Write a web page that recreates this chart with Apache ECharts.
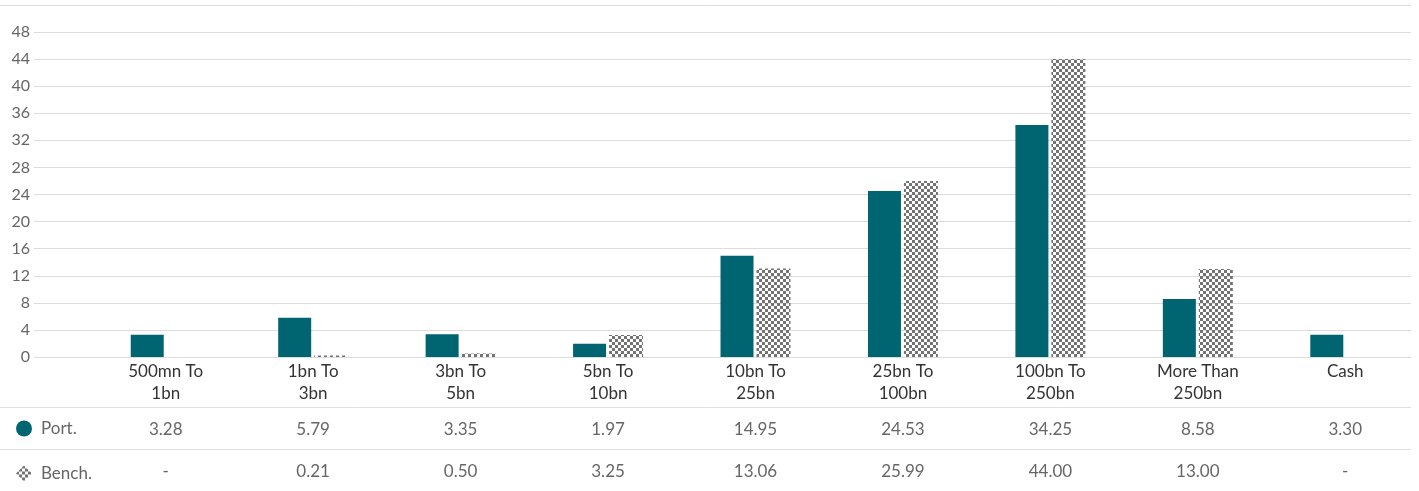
<!DOCTYPE html>
<html>
<head>
<meta charset="utf-8">
<script src="https://cdn.jsdelivr.net/npm/echarts@6/dist/echarts.min.js"></script>
<style>
html,body{margin:0;padding:0;background:#fff;}
#chart{width:1419px;height:491px;}
</style>
</head>
<body>
<div id="chart"></div>
<script>
const categories = ['500mn To\n1bn','1bn To\n3bn','3bn To\n5bn','5bn To\n10bn','10bn To\n25bn','25bn To\n100bn','100bn To\n250bn','More Than\n250bn','Cash'];
const portValues = [3.28, 5.79, 3.35, 1.97, 14.95, 24.53, 34.25, 8.58, 3.30];
const benchValues = [null, 0.21, 0.50, 3.25, 13.06, 25.99, 44.00, 13.00, null];
const yTicks = [0, 48, 4];

function makePattern() {
  const c = document.createElement('canvas');
  c.width = 6; c.height = 6;
  const ctx = c.getContext('2d');
  ctx.fillStyle = '#737373';
  ctx.fillRect(0, 0, 3, 3);
  ctx.fillRect(3, 3, 3, 3);
  return c;
}
const pattern = { image: makePattern(), repeat: 'repeat' };
const fmt = v => (v === null || v === undefined) ? '-' : v.toFixed(2);
const FONT = 'Lato, "Source Sans Pro", sans-serif';

const chart = echarts.init(document.getElementById('chart'));
chart.setOption({
  animation: false,
  textStyle: { fontFamily: FONT },
  grid: [
    { left: 34, right: 8, top: 32, height: 325, containLabel: false },
    { left: 92, width: 1327, top: 32, height: 325, containLabel: false }
  ],
  legend: {
    orient: 'vertical',
    left: 11,
    top: 415,
    itemWidth: 16,
    itemHeight: 16,
    itemGap: 28,
    textStyle: { color: '#666', fontSize: 17, fontFamily: FONT, padding: [0, 0, 0, 4] },
    data: [
      { name: 'Port.', icon: 'circle' },
      { name: 'Bench.', icon: 'diamond', itemStyle: { color: pattern } }
    ]
  },
  xAxis: [
    { type: 'value', gridIndex: 0, min: 0, max: 1, show: false },
    {
      type: 'category', gridIndex: 1, data: categories,
      axisLine: { show: false }, axisTick: { show: false },
      axisLabel: { color: '#333', fontSize: 17, lineHeight: 22, margin: 4, interval: 0, fontFamily: FONT }
    },
    {
      type: 'category', gridIndex: 1, data: categories, position: 'bottom', offset: 60,
      axisLine: { show: false }, axisTick: { show: false },
      axisLabel: { color: '#666', fontSize: 17, lineHeight: 22, margin: 2, interval: 0, fontFamily: FONT,
        formatter: (v, i) => fmt(portValues[i]) }
    },
    {
      type: 'category', gridIndex: 1, data: categories, position: 'bottom', offset: 102,
      axisLine: { show: false }, axisTick: { show: false },
      axisLabel: { color: '#666', fontSize: 17, lineHeight: 22, margin: 2, interval: 0, fontFamily: FONT,
        formatter: (v, i) => fmt(benchValues[i]) }
    }
  ],
  yAxis: [
    {
      type: 'value', gridIndex: 0, min: yTicks[0], max: yTicks[1], interval: yTicks[2],
      axisLine: { show: false }, axisTick: { show: false },
      axisLabel: { color: '#666', fontSize: 16, margin: 4, fontFamily: FONT },
      splitLine: { lineStyle: { color: '#dcdcdc', width: 1 } }
    },
    {
      type: 'value', gridIndex: 1, min: yTicks[0], max: yTicks[1], interval: yTicks[2], show: false,
      splitLine: { show: false }
    }
  ],
  series: [
    {
      name: 'Port.', type: 'bar', xAxisIndex: 1, yAxisIndex: 1,
      data: portValues, barWidth: 33, barGap: '9%',
      itemStyle: { color: '#006570' }
    },
    {
      name: 'Bench.', type: 'bar', xAxisIndex: 1, yAxisIndex: 1,
      data: benchValues, barWidth: 34, barGap: '9%',
      itemStyle: { color: pattern }
    }
  ],
  graphic: [
    { type: 'line', shape: { x1: 0, y1: 5.5, x2: 1411, y2: 5.5 }, style: { stroke: '#e0e0e0', lineWidth: 1 } },
    { type: 'line', shape: { x1: 0, y1: 407.5, x2: 1411, y2: 407.5 }, style: { stroke: '#e0e0e0', lineWidth: 1 } },
    { type: 'line', shape: { x1: 0, y1: 449.5, x2: 1411, y2: 449.5 }, style: { stroke: '#e0e0e0', lineWidth: 1 } }
  ]
});
</script>
</body>
</html>
